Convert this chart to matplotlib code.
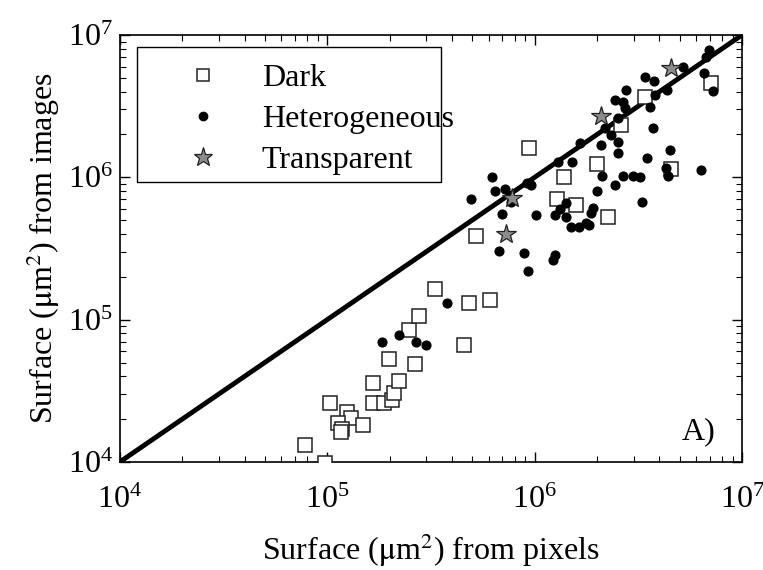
import matplotlib
matplotlib.use('Agg')
import matplotlib.pyplot as plt
from matplotlib.patches import Rectangle

plt.rcParams['font.family'] = ['Liberation Serif', 'DejaVu Serif']
plt.rcParams['mathtext.fontset'] = 'stix'

# ── data (um^2) ──
dark_x = [7.84e4, 9.8e4, 1.03e5, 1.25e5, 1.30e5, 1.13e5, 1.49e5, 1.18e5, 1.17e5,
          1.66e5, 1.66e5, 1.88e5, 2.05e5, 2.10e5, 2.22e5, 1.99e5, 2.65e5, 2.48e5,
          2.77e5, 3.30e5, 4.82e5, 6.08e5, 4.56e5, 5.20e5, 9.35e5, 1.39e6, 1.28e6,
          1.59e6, 2.27e6, 2.01e6, 2.62e6, 3.42e6, 4.56e6, 7.10e6]
dark_y = [1.32e4, 9.8e3, 2.59e4, 2.24e4, 2.04e4, 1.88e4, 1.82e4, 1.70e4, 1.62e4,
          3.58e4, 2.59e4, 2.59e4, 2.72e4, 3.05e4, 3.70e4, 5.29e4, 4.87e4, 8.45e4,
          1.06e5, 1.64e5, 1.31e5, 1.37e5, 6.63e4, 3.87e5, 1.61e6, 1.00e6, 7.04e5,
          6.39e5, 5.26e5, 1.24e6, 2.33e6, 3.67e6, 1.14e6, 4.60e6]

het_x = [3.78e5, 2.22e5, 1.84e5, 2.68e5, 2.99e5,
         6.21e5, 4.93e5, 6.42e5, 7.18e5, 7.67e5, 6.94e5, 1.01e6, 6.71e5, 8.85e5,
         1.26e6, 1.23e6, 9.25e5, 9.15e5, 9.57e5, 1.29e6, 1.52e6, 1.66e6, 1.41e6,
         1.32e6, 1.26e6, 1.41e6, 1.49e6, 1.63e6, 1.76e6,
         2.10e6, 2.34e6, 2.53e6, 2.51e6, 2.12e6, 2.68e6, 2.99e6, 2.45e6, 2.01e6,
         1.92e6, 1.88e6, 1.82e6,
         6.94e6, 6.71e6, 5.20e6, 6.56e6, 7.26e6, 3.42e6, 3.78e6, 2.77e6, 4.36e6,
         3.82e6, 2.45e6, 2.68e6, 2.74e6, 3.61e6, 2.53e6, 3.73e6, 2.19e6, 4.51e6,
         3.49e6, 4.31e6, 4.41e6, 6.35e6, 3.23e6, 3.31e6]
het_y = [1.31e5, 7.80e4, 6.96e4, 6.96e4, 6.63e4,
         1.00e6, 7.04e5, 8.01e5, 8.28e5, 6.70e5, 5.52e5, 5.43e5, 3.03e5, 2.94e5,
         2.84e5, 2.62e5, 2.20e5, 9.12e5, 8.83e5, 1.28e6, 1.28e6, 1.74e6, 6.60e5,
         5.98e5, 5.43e5, 5.26e5, 4.48e5, 4.48e5, 4.77e5,
         1.69e6, 1.98e6, 1.77e6, 1.48e6, 1.02e6, 1.02e6, 1.02e6, 8.83e5, 8.01e5,
         6.08e5, 5.61e5, 4.62e5,
         7.85e6, 7.00e6, 5.96e6, 5.41e6, 4.04e6, 5.07e6, 4.75e6, 4.11e6, 4.11e6,
         3.79e6, 3.49e6, 3.38e6, 3.07e6, 3.12e6, 2.61e6, 2.22e6, 2.22e6, 1.56e6,
         1.37e6, 1.16e6, 1.02e6, 1.12e6, 1.00e6, 6.70e5]

trans_x = [7.75e5, 7.25e5, 2.10e6, 4.56e6]
trans_y = [7.16e5, 4.00e5, 2.70e6, 5.85e6]

lims = [1e4, 1e7]
FS = 23

fig = plt.figure(figsize=(7.63, 5.70), dpi=100)
ax = fig.add_axes([0.157, 0.1895, 0.8155, 0.7491])

ax.plot(lims, lims, color='black', lw=3.5, zorder=2)
ax.plot(dark_x, dark_y, ls='none', marker='s', ms=9.5, mfc='white', mec='#222222',
        mew=1.1, label='Dark', zorder=3)
ax.plot(het_x, het_y, ls='none', marker='o', ms=6.3, mfc='black', mec='black',
        label='Heterogeneous', zorder=4)
ax.plot(trans_x, trans_y, ls='none', marker='*', ms=15, mfc='#8c8c8c', mec='#222222',
        mew=0.9, label='Transparent', zorder=5)

ax.set_xscale('log'); ax.set_yscale('log')
ax.set_xlim(lims); ax.set_ylim(lims)
ax.tick_params(which='both', direction='in', top=True, right=True, labelsize=FS)
ax.tick_params(axis='x', which='both', pad=17)
ax.tick_params(axis='y', which='both', pad=5)
ax.tick_params(which='major', length=7, width=1)
ax.tick_params(which='minor', length=4, width=0.8)
for s in ax.spines.values():
    s.set_linewidth(1.2)

ax.set_xlabel(r'Surface ($\mathrm{\mu}$m$^2$) from pixels', fontsize=FS, labelpad=12)
ax.set_ylabel(r'Surface ($\mathrm{\mu}$m$^2$) from images', fontsize=FS, labelpad=4)

ax.text(0.93, 0.07, 'A)', transform=ax.transAxes, fontsize=FS, ha='center', va='center')

# legend: frame drawn by hand (text runs past the box edge in the original)
ax.add_patch(Rectangle((0.0273, 0.656), 0.489, 0.316, transform=ax.transAxes,
                       fill=True, facecolor='white', edgecolor='black', lw=1.0, zorder=6))
leg = ax.legend(loc='upper left', bbox_to_anchor=(0.0273, 0.963), borderaxespad=0,
                fontsize=FS, frameon=False, markerscale=0.95,
                handlelength=3.33, handletextpad=0.18, borderpad=0.4, labelspacing=0.37)
leg.set_zorder(7)

fig.savefig('out.png', dpi=100)
